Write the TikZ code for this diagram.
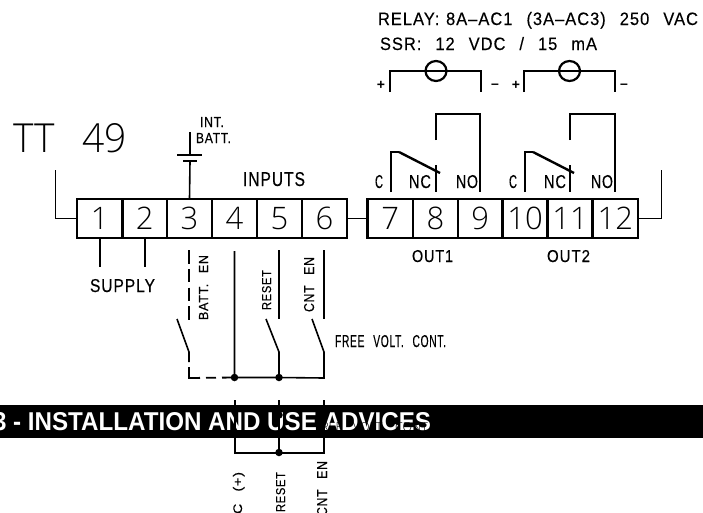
\documentclass[tikz,border=0pt]{standalone}
\usepackage{graphicx}
\usepackage{fontspec}
\setmainfont{Liberation Sans}
\newfontfamily\thinf{Open Sans Light}
\newfontfamily\cad{Liberation Sans}[LetterSpace=6,FakeBold=0.3]
\newfontfamily\bandf{Liberation Sans Bold}
\newcommand{\fitbox}[3]{\resizebox{#1pt}{#2pt}{#3}}
\newcommand{\gap}{\hspace{.85em}}
\tikzset{
  x=1pt,y=-1pt,
  term/.style={draw,line width=2.3pt,minimum height=39pt,inner sep=0pt,outer sep=0pt,font=\thinf\fontsize{31}{31}\selectfont,anchor=north west},
  wire/.style={line width=1.6pt,line cap=butt},
  thin wire/.style={line width=1pt},
  blade/.style={line width=2.4pt},
  plate/.style={line width=2.6pt},
  dash wire/.style={line width=1.8pt,dash pattern=on 13.5pt off 5.3pt},
  lab/.style={inner sep=0pt,outer sep=0pt,anchor=base west},
  sign/.style={lab,anchor=center,font=\bfseries\fontsize{14}{14}\selectfont},
  dot/.style={circle,fill=black,inner sep=0pt,minimum size=7.5pt}
}
\begin{document}
\begin{tikzpicture}
\useasboundingbox (0,0) rectangle (703,512);
\clip (0,0) rectangle (703,512);
% header band
\node[lab,fill=black,minimum width=703pt,minimum height=33pt,anchor=north west] (band) at (0,405) {};
\node[lab,text=white] (bandtxt) at (-7,430) {\fitbox{438}{18}{\bandf 3 - INSTALLATION AND USE ADVICES}};
% terminals
\node[term,minimum width=45.5pt] (t1) at (77,199) {1};
\node[term,minimum width=44.5pt] (t2) at (122.5,199) {2};
\node[term,minimum width=45pt] (t3) at (167,199) {3};
\node[term,minimum width=45pt] (t4) at (212,199) {4};
\node[term,minimum width=45pt] (t5) at (257,199) {5};
\node[term,minimum width=45pt] (t6) at (302,199) {6};
\node[term,minimum width=45.5pt] (t7) at (367.5,199) {7};
\node[term,minimum width=45pt] (t8) at (413,199) {8};
\node[term,minimum width=44.5pt] (t9) at (458,199) {9};
\node[term,minimum width=45pt] (t10) at (502.5,199) {10};
\node[term,minimum width=45pt] (t11) at (547.5,199) {11};
\node[term,minimum width=45.5pt] (t12) at (592.5,199) {12};
% frame stubs
\draw[thin wire] (55,170) |- (t1.west);
\draw[thin wire] (t6.east) -- (t7.west);
\draw[thin wire] (t12.east) -| (661,170);
% supply
\draw[wire] (t1.south) -- ++(0,29);
\draw[wire] (t2.south) -- ++(0,29);
% battery
\coordinate (batA) at (190,155);
\coordinate (batB) at (190,161);
\draw[wire] (190,132) -- (batA);
\draw[plate] (177,155) -- (202,155);
\draw[plate] (183,161) -- (197,161);
\draw[wire] (batB) -- (t3.north);
% inputs
\coordinate (j0) at (189,378);
\node[dot] (j1) at (234.5,377.5) {};
\node[dot] (j2) at (279,377.5) {};
\coordinate (j3) at (324,378);
\draw[dash wire] (189,250) -- (189,320);
\draw[wire] (177,319) -- (189,352) -- (189,362);
\draw[line width=1.8pt,dash pattern=on 22pt off 6pt on 10pt off 6pt] (189,367) -- (j0) -- (j1.center);
\draw[wire] (234.5,251) -- (j1.center) -- (j2.center) -- (j3) -- (324,352) -- (312,319);
\draw[wire] (279,250) -- (279,319);
\draw[wire] (324,250) -- (324,319);
\draw[wire] (266,319) -- (279,352) -- (j2.center);
% lines across band
\node[dot] (j4) at (279,452.5) {};
\node[dot] (j5) at (279,415) {};
\coordinate (k1) at (235,453);
\coordinate (k3) at (324,453);
\draw[wire] (235,400) -- (k1) -- (k3) -- (324,400);
\draw[wire] (279,400) -- (j4.center);
% outputs
\draw[wire] (390,92) |- (481,71) -- (481,92);
\draw[wire] (524,92) |- (615,71) -- (615,92);
\draw[line width=2.2pt] (436,71) circle [x radius=10.5,y radius=10];
\draw[line width=2.2pt] (569.5,71) circle [x radius=10.5,y radius=10];
\draw[wire] (436,140) |- (480,114) -- (480,192);
\draw[wire] (570,140) |- (615,114) -- (615,192);
\draw[wire] (391,192) |- (399,152);
\draw[blade] (399,152) -- (440,173);
\draw[wire] (436,165) -- (436,192);
\draw[wire] (525,192) |- (533,152);
\draw[blade] (533,152) -- (574,173);
\draw[wire] (570,165) -- (570,192);
% labels
\node[lab] (tt) at (13,152) {\fitbox{114}{29}{\thinf TT\hspace{.72em}49}};
\node[lab] (intl) at (200,127) {\fitbox{24}{10}{\cad INT.}};
\node[lab] (battl) at (196,143) {\fitbox{35}{10}{\cad BATT.}};
\node[lab] (inputs) at (243,186) {\fitbox{62}{14}{\cad INPUTS}};
\node[lab] (supply) at (90,292) {\fitbox{65}{13}{\cad SUPPLY}};
\node[lab] (relay) at (378,25) {\fitbox{320}{13}{\cad RELAY:\hspace{.4em}8A\textendash AC1\gap(3A\textendash AC3)\gap250\gap VAC}};
\node[lab] (ssr) at (380,50) {\fitbox{217}{13}{\cad SSR:\gap12\gap VDC\gap/\gap15\gap mA}};
\node[sign] (p1) at (381,85) {+};
\node[sign] (m1) at (495,86) {\textendash};
\node[sign] (p2) at (516,85) {+};
\node[sign] (m2) at (624,86) {\textendash};
\node[lab] (c1) at (375,188) {\fitbox{8}{13}{\cad C}};
\node[lab] (nc1) at (409,188) {\fitbox{22}{13}{\cad NC}};
\node[lab] (no1) at (456,188) {\fitbox{22}{13}{\cad NO}};
\node[lab] (c2) at (509,188) {\fitbox{8}{13}{\cad C}};
\node[lab] (nc2) at (544,188) {\fitbox{22}{13}{\cad NC}};
\node[lab] (no2) at (591,188) {\fitbox{22}{13}{\cad NO}};
\node[lab] (out1) at (412,262) {\fitbox{41}{12}{\cad OUT1}};
\node[lab] (out2) at (547,262) {\fitbox{43}{12}{\cad OUT2}};
\node[lab] (free) at (335,347) {\fitbox{111}{12}{\cad FREE\gap VOLT.\gap CONT.}};
\node[lab] (freeb) at (315,431) {\fitbox{115}{9}{\thinf FREE\gap VOLT.\gap CONT.}};
\node[lab,rotate=90] (batten) at (208,320) {\fitbox{65}{9}{\cad BATT.\gap EN}};
\node[lab,rotate=90] (reset) at (271,310) {\fitbox{40}{9}{\cad RESET}};
\node[lab,rotate=90] (cnten) at (314,312) {\fitbox{55}{10}{\cad CNT\gap EN}};
\node[lab,rotate=90] (dcp) at (242,514) {\fitbox{42}{9}{\cad C\gap(+)}};
\node[lab,rotate=90] (resetb) at (285,512) {\fitbox{40}{9}{\cad RESET}};
\node[lab,rotate=90] (cntenb) at (327,516) {\fitbox{55}{10}{\cad CNT\gap EN}};
\end{tikzpicture}
\end{document}
